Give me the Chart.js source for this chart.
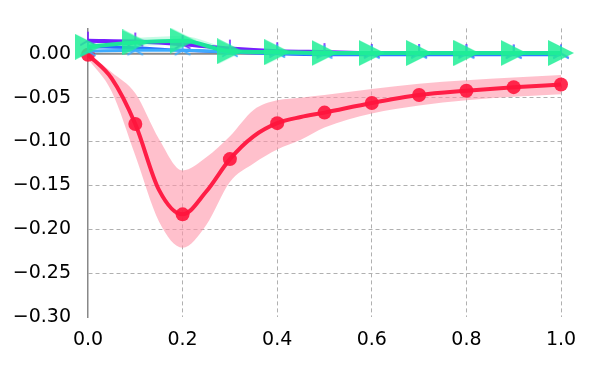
<!DOCTYPE html>
<html><head><meta charset="utf-8">
<script src="https://cdn.jsdelivr.net/npm/chart.js@4/dist/chart.umd.min.js"></script>
<style>html,body{margin:0;padding:0;background:#fff}#wrap{width:600px;height:375px}</style>
</head><body><div id="wrap"><canvas id="c" width="600" height="375"></canvas></div>
<script>
// ---- data ----
const xFine     = [0, 0.05, 0.1, 0.15, 0.2, 0.25, 0.3, 0.35, 0.4, 0.45, 0.5, 0.6, 0.7, 0.8, 0.9, 1.0];
const redMean   = [-0.001, -0.028, -0.080, -0.155, -0.183, -0.157, -0.120, -0.094, -0.079, -0.072, -0.067, -0.056, -0.047, -0.042, -0.038, -0.035];
const redUpper  = [0.001, -0.021, -0.045, -0.097, -0.133, -0.118, -0.094, -0.064, -0.053, -0.050, -0.047, -0.040, -0.034, -0.030, -0.027, -0.024];
const redLower  = [-0.006, -0.043, -0.116, -0.191, -0.221, -0.195, -0.146, -0.125, -0.109, -0.098, -0.084, -0.068, -0.059, -0.053, -0.049, -0.046];

const xMarks    = [0, 0.1, 0.2, 0.3, 0.4, 0.5, 0.6, 0.7, 0.8, 0.9, 1.0];
const purpleMean= [0.015, 0.014, 0.011, 0.006, 0.003, 0.002, 0.001, 0.001, 0.001, 0.0005, 0.0005];
const blueMean  = [0.008, 0.007, 0.004, 0.002, 0.000, -0.001, -0.001, -0.001, -0.001, -0.001, -0.001];
const cyanMean  = [0.003, 0.004, 0.004, 0.002, 0.001, 0.000, 0.000, 0.000, 0.000, 0.000, 0.000];
const greenMean = [0.008, 0.013, 0.015, 0.003, 0.002, 0.001, 0.001, 0.001, 0.001, 0.001, 0.001];
const greenUpper= [0.011, 0.018, 0.020, 0.006, 0.003, 0.002, 0.002, 0.002, 0.002, 0.002, 0.002];
const greenLower= [0.005, 0.009, 0.010, 0.001, 0.001, 0.000, 0.000, 0.000, 0.000, 0.000, 0.000];

const xTicks = [0, 0.2, 0.4, 0.6, 0.8, 1.0];
const yTicks = [-0.30, -0.25, -0.20, -0.15, -0.10, -0.05, 0.00];
const zeroLine = [0, 0];
const zeroX = [0, 1];

// ---- helpers ----
const pts = (xs, ys) => xs.map((x, i) => ({x, y: ys[i]}));
function triUp(color, len, lw) {
  const s = Math.ceil(len * 2 + 4);
  const c = document.createElement('canvas'); c.width = s; c.height = s;
  const g = c.getContext('2d'); g.strokeStyle = color; g.lineWidth = lw; g.lineCap = 'butt';
  const cx = s / 2, cy = s / 2;
  [90, 210, 330].forEach(a => {
    const r = a * Math.PI / 180;
    g.beginPath(); g.moveTo(cx, cy); g.lineTo(cx + Math.cos(r) * len, cy - Math.sin(r) * len); g.stroke();
  });
  return c;
}
function triRight(color, w, h) {
  const c = document.createElement('canvas'); c.width = w; c.height = h;
  const g = c.getContext('2d'); g.fillStyle = color;
  g.beginPath(); g.moveTo(0, 0); g.lineTo(w, h / 2); g.lineTo(0, h); g.closePath(); g.fill();
  return c;
}
const isMark = x => Math.abs(Math.round(x * 10) - x * 10) < 1e-6;

const RED = 'rgb(255,30,70)';
const PURPLE = 'rgb(120,30,255)';
const BLUE = 'rgb(40,110,255)';
const CYAN = 'rgb(60,170,255)';
const GREEN = 'rgb(28,228,155)';

const purpleTri = triUp(PURPLE, 9, 1.6);
const blueTri = triUp(CYAN, 9, 1.6);
const greenTri = triRight('rgba(30,238,150,0.85)', 26, 26);

const common = {cubicInterpolationMode: 'monotone', showLine: true};
const FONT = {family: 'DejaVu Sans', size: 19};

new Chart(document.getElementById('c'), {
  type: 'scatter',
  data: {
    datasets: [
      // red band
      {data: pts(xFine, redLower), borderWidth: 0, pointRadius: 0, fill: false, order: 20, ...common},
      {data: pts(xFine, redUpper), borderWidth: 0, pointRadius: 0, fill: '-1', backgroundColor: 'rgba(255,150,170,0.6)', order: 20, ...common},
      // zero line
      {data: pts(zeroX, zeroLine), borderColor: '#8a8a8a', borderWidth: 2, pointRadius: 0, showLine: true, order: 15},
      // red mean
      {data: pts(xFine, redMean), borderColor: RED, borderWidth: 4, backgroundColor: 'rgba(255,20,60,0.9)',
       pointBorderWidth: 0, pointRadius: c => isMark(c.raw.x) ? 7 : 0, order: 14, clip: false, ...common},
      // green band
      {data: pts(xMarks, greenLower), borderWidth: 0, pointRadius: 0, fill: false, order: 13, ...common},
      {data: pts(xMarks, greenUpper), borderWidth: 0, pointRadius: 0, fill: '-1', backgroundColor: 'rgba(30,238,150,0.25)', order: 13, ...common},
      // purple
      {data: pts(xMarks, purpleMean), borderColor: PURPLE, borderWidth: 4, pointStyle: purpleTri, pointRadius: 9, order: 12, clip: false, ...common},
      // blue
      {data: pts(xMarks, blueMean), borderColor: BLUE, borderWidth: 3, pointRadius: 0, order: 11, ...common},
      // cyan-blue with tri markers
      {data: pts(xMarks, cyanMean), borderColor: CYAN, borderWidth: 3, pointStyle: blueTri, pointRadius: 9, order: 10, clip: false, ...common},
      // green
      {data: pts(xMarks, greenMean), borderColor: GREEN, borderWidth: 4, pointStyle: greenTri, pointRadius: 13, order: 5, clip: false, ...common}
    ]
  },
  options: {
    responsive: false, animation: false, devicePixelRatio: 1,
    layout: {padding: {left: 0, right: 39, top: 23, bottom: 0}},
    plugins: {legend: {display: false}, tooltip: {enabled: false}},
    elements: {point: {hoverRadius: 0}},
    scales: {
      x: {
        type: 'linear', min: 0, max: 1,
        afterBuildTicks: s => { s.ticks = xTicks.map(v => ({value: v})); },
        afterFit: s => { s.height = 58; },
        ticks: {padding: 12, color: '#000', font: FONT, callback: v => v.toFixed(1), maxRotation: 0},
        grid: {drawTicks: false, color: c => (c.tick && c.tick.value === 0) ? 'rgba(0,0,0,0)' : '#b0b0b0', lineWidth: 1},
        border: {display: false, dash: [4, 3]}
      },
      y: {
        type: 'linear', min: -0.30, max: 0.029,
        afterBuildTicks: s => { s.ticks = yTicks.map(v => ({value: v})); },
        afterFit: s => { s.width = 88; },
        ticks: {padding: 17, color: '#000', font: FONT,
                callback: v => (v < -1e-9 ? '\u2212' : '') + Math.abs(v).toFixed(2)},
        grid: {drawTicks: false, color: c => (c.tick && (Math.abs(c.tick.value) < 1e-9 || Math.abs(c.tick.value + 0.3) < 1e-9)) ? 'rgba(0,0,0,0)' : '#b0b0b0', lineWidth: 1},
        border: {display: true, color: '#888', width: 1.5, dash: [4, 3]}
      }
    }
  }
});
</script>
</body></html>
